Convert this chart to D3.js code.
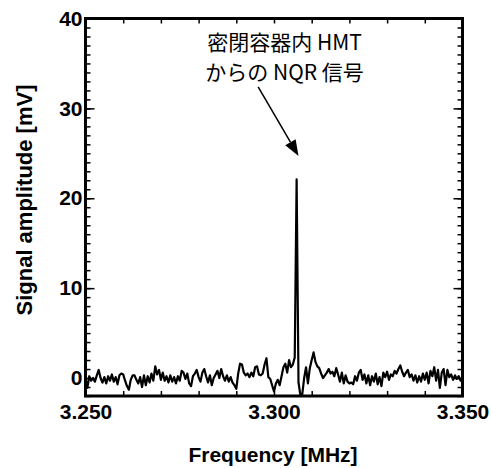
<!DOCTYPE html>
<html>
<head>
<meta charset="utf-8">
<script src="https://cdn.jsdelivr.net/npm/d3@7"></script>
<style>
  body { margin: 0; background: #fff; }
  .tick-label { font-family: 'Liberation Sans', Arial, sans-serif; font-weight: bold; font-size: 21px; fill: #000; }
  .axis-title { font-family: 'Liberation Sans', Arial, sans-serif; font-weight: bold; font-size: 21px; fill: #000; }
  .note { font-family: 'Noto Sans CJK JP', sans-serif; font-size: 21px; fill: #000; }
</style>
</head>
<body>
<div class="chart-container"></div>
<script>
// Data
const freqStart = 3.25;
const freqStep = 0.0005;
const amplitude = [
  0.0, -1.1, 0.2, -0.3, 0.0, -0.4, 0.3, 0.9, 0.0, -0.5,
  0.1, -0.6, 0.2, -0.3, 0.4, -0.4, 0.1, -0.7, 0.3, 0.5,
  0.4, -0.3, -0.9, -1.3, -0.2, 0.3, 0.3, -0.2, -0.6, 0.1,
  -1.0, 0.3, -0.8, 0.2, -0.5, 0.5, -0.3, 1.3, 0.4, 0.9,
  -0.2, 0.6, -0.3, 0.2, -0.5, 0.3, -0.4, 0.1, -0.6, 0.2,
  -0.3, 0.8, 0.6, -0.1, 0.5, -0.6, -0.9, 0.2, 0.5, 0.9,
  0.1, -0.4, 0.6, 1.0, 0.2, -0.5, 0.3, -0.8, 0.0, 0.4,
  0.8, 0.0, 1.0, 0.2, -0.3, 0.3, -0.4, 0.1, -0.5, -0.8,
  -1.2, 0.5, 1.6, 1.5, 0.6, 0.3, 0.5, 0.1, 0.6, 0.2,
  1.2, 1.3, 0.4, 0.3, 0.5, 1.5, 2.2, 0.1, -0.1, -0.8,
  -1.5, -0.6, -0.2, -0.8, 0.2, 1.2, 1.6, 0.6, 2.0, 1.2,
  1.5, 2.3, 22.1, -0.5, -1.9, -1.8, 0.0, 1.2, -0.6, 1.1,
  2.0, 2.85, 1.8, 1.3, 1.1, 0.5, 0.0, 0.3, 0.6, 1.0,
  0.5, 0.7, 0.2, 1.1, 0.4, -0.4, 0.6, -0.6, 0.3, -0.4,
  -0.6, -0.5, -0.7, 0.2, -0.3, 0.6, 0.9, -0.2, 0.4, -0.6,
  0.3, -0.8, 0.2, -0.4, 0.5, -0.7, 0.1, -0.9, 0.6, 0.1,
  0.7, -0.2, 0.4, 0.2, 0.8, 0.5, 1.0, 1.4, 0.7, 0.2,
  0.6, 0.9, 0.1, 0.4, -0.3, 0.3, -0.5, 0.2, -0.4, 0.5,
  -0.2, 0.6, -0.6, 0.8, 0.2, 1.2, -0.3, 0.9, -1.1, 0.6,
  1.0, -0.8, 0.9, 0.1, 0.4, -0.2, 0.3, -0.1, 0.2, -0.3,
  0.1
];
const xTicks = [3.25, 3.30, 3.35];
const yTicks = [0, 10, 20, 30, 40];
const noteLines = ['密閉容器内 HMT', 'からの NQR 信号'];
const arrowTail = [3.2958, 32.4];
const arrowTip = [3.3065, 24.7];

const signal = amplitude.map((v, i) => ({ f: freqStart + i * freqStep, v: v }));

// Margin Convention
const margin = { top: 18.5, right: 29.5, bottom: 72, left: 85.5 };
const width = 492 - margin.left - margin.right;
const height = 468 - margin.top - margin.bottom;

// Scales
const xScale = d3.scaleLinear().domain([3.25, 3.35]).range([0, width]);
const yScale = d3.scaleLinear().domain([-2, 40]).range([height, 0]);

const svg = d3.select('.chart-container')
  .append('svg')
  .attr('width', 492)
  .attr('height', 468)
  .append('g')
  .attr('transform', `translate(${margin.left},${margin.top})`);

// Axes (ticks point inward)
function styleAxis(g) {
  g.select('.domain').remove();
  g.selectAll('.tick line').attr('stroke', '#000').attr('stroke-width', 1.5);
  g.selectAll('.tick text').attr('class', 'tick-label').attr('font-size', null).attr('font-family', null);
}

const minorX = d3.range(3.25, 3.3501, 0.01);
const minorY = d3.range(-2, 40.01, 1);

svg.append('g').attr('transform', `translate(0,${height})`)
  .call(d3.axisBottom(xScale).tickValues(minorX).tickSize(-5).tickFormat(''))
  .call(styleAxis);
svg.append('g')
  .call(d3.axisTop(xScale).tickValues(minorX).tickSize(-5).tickFormat(''))
  .call(styleAxis);
svg.append('g').attr('transform', `translate(0,${height})`)
  .call(d3.axisBottom(xScale).tickValues(xTicks).tickSize(0).tickPadding(8).tickFormat(d3.format('.3f')))
  .call(styleAxis);

svg.append('g')
  .call(d3.axisLeft(yScale).tickValues(minorY).tickSize(-5).tickFormat(''))
  .call(styleAxis);
svg.append('g')
  .call(d3.axisLeft(yScale).tickValues(yTicks).tickSize(-9).tickPadding(3).tickFormat(d3.format('d')))
  .call(styleAxis);
svg.append('g').attr('transform', `translate(${width},0)`)
  .call(d3.axisRight(yScale).tickValues(minorY).tickSize(-5).tickFormat(''))
  .call(styleAxis);
svg.append('g').attr('transform', `translate(${width},0)`)
  .call(d3.axisRight(yScale).tickValues(yTicks).tickSize(-9).tickFormat(''))
  .call(styleAxis);

// Signal line
svg.append('path')
  .datum(signal)
  .attr('fill', 'none')
  .attr('stroke', '#000')
  .attr('stroke-width', 2.2)
  .attr('stroke-linejoin', 'round')
  .attr('d', d3.line().x(d => xScale(d.f)).y(d => yScale(d.v)));

// Frame
svg.append('rect')
  .attr('width', width)
  .attr('height', height)
  .attr('fill', 'none')
  .attr('stroke', '#000')
  .attr('stroke-width', 3);

// Axis titles
svg.append('text')
  .attr('class', 'axis-title')
  .attr('x', width / 2 - 1)
  .attr('y', height + 66)
  .attr('text-anchor', 'middle')
  .text('Frequency [MHz]');

svg.append('text')
  .attr('class', 'axis-title')
  .attr('font-size', '22px')
  .attr('transform', `translate(${-margin.left + 32},${200 - margin.top}) rotate(-90)`)
  .attr('text-anchor', 'middle')
  .style('font-size', '22px')
  .text('Signal amplitude [mV]');

// Annotation
const note = svg.append('text')
  .attr('class', 'note')
  .attr('text-anchor', 'middle');
noteLines.forEach((t, i) => {
  note.append('tspan')
    .attr('x', xScale(3.3028))
    .attr('y', 31 + i * 30)
    .text(t);
});

const x1 = xScale(arrowTail[0]), y1 = yScale(arrowTail[1]);
const x2 = xScale(arrowTip[0]), y2 = yScale(arrowTip[1]);
const ang = Math.atan2(y2 - y1, x2 - x1);
const headLen = 16, headW = 6;
const bx = x2 - headLen * Math.cos(ang), by = y2 - headLen * Math.sin(ang);
svg.append('line')
  .attr('x1', x1).attr('y1', y1).attr('x2', bx).attr('y2', by)
  .attr('stroke', '#000').attr('stroke-width', 1.5);
svg.append('polygon')
  .attr('points', [
    [x2, y2],
    [bx + headW * Math.sin(ang), by - headW * Math.cos(ang)],
    [bx - headW * Math.sin(ang), by + headW * Math.cos(ang)]
  ].map(p => p.join(',')).join(' '))
  .attr('fill', '#000');
</script>
</body>
</html>
